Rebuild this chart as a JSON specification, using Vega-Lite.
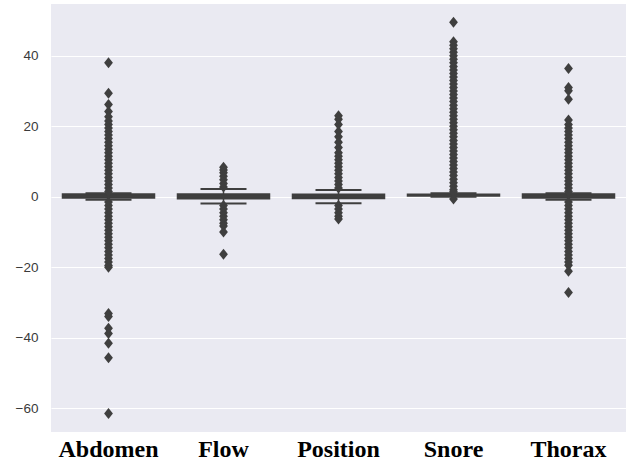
{
  "$schema": "https://vega.github.io/schema/vega-lite/v6.json",
  "width": 575,
  "height": 428,
  "autosize": {"type": "none"},
  "padding": {"left": 51, "top": 4, "right": 10, "bottom": 34},
  "background": "white",
  "config": {
    "view": {"fill": "#EAEAF2", "stroke": null},
    "axis": {"domain": false, "ticks": false, "title": null, "gridColor": "white", "gridWidth": 1.2}
  },
  "datasets": {
    "boxes": [
      {"cat": "Abdomen", "lower": -0.85, "q1": -0.35, "median": 0.1, "q3": 0.75, "upper": 1.0},
      {"cat": "Flow", "lower": -1.9, "q1": -0.55, "median": 0.1, "q3": 0.75, "upper": 2.2},
      {"cat": "Position", "lower": -1.85, "q1": -0.5, "median": 0.1, "q3": 0.7, "upper": 1.9},
      {"cat": "Snore", "lower": 0.0, "q1": 0.2, "median": 0.4, "q3": 0.7, "upper": 1.0},
      {"cat": "Thorax", "lower": -0.85, "q1": -0.35, "median": 0.1, "q3": 0.75, "upper": 1.0}
    ],
    "outliers": [
      {"cat": "Abdomen", "v": 38.0}, {"cat": "Abdomen", "v": 29.4}, {"cat": "Abdomen", "v": 26.2}, {"cat": "Abdomen", "v": 24.2}, {"cat": "Abdomen", "v": 22.7},
      {"cat": "Abdomen", "v": 21.5}, {"cat": "Abdomen", "v": 20.5}, {"cat": "Abdomen", "v": 19.5}, {"cat": "Abdomen", "v": 18.5}, {"cat": "Abdomen", "v": 17.5},
      {"cat": "Abdomen", "v": 16.5}, {"cat": "Abdomen", "v": 15.5}, {"cat": "Abdomen", "v": 14.5}, {"cat": "Abdomen", "v": 13.5}, {"cat": "Abdomen", "v": 12.5},
      {"cat": "Abdomen", "v": 11.5}, {"cat": "Abdomen", "v": 10.5}, {"cat": "Abdomen", "v": 9.5}, {"cat": "Abdomen", "v": 8.5}, {"cat": "Abdomen", "v": 7.5},
      {"cat": "Abdomen", "v": 6.5}, {"cat": "Abdomen", "v": 5.5}, {"cat": "Abdomen", "v": 4.5}, {"cat": "Abdomen", "v": 3.5}, {"cat": "Abdomen", "v": 2.5},
      {"cat": "Abdomen", "v": 1.5}, {"cat": "Abdomen", "v": -1.5}, {"cat": "Abdomen", "v": -2.5}, {"cat": "Abdomen", "v": -3.5}, {"cat": "Abdomen", "v": -4.5},
      {"cat": "Abdomen", "v": -5.5}, {"cat": "Abdomen", "v": -6.5}, {"cat": "Abdomen", "v": -7.5}, {"cat": "Abdomen", "v": -8.5}, {"cat": "Abdomen", "v": -9.5},
      {"cat": "Abdomen", "v": -10.5}, {"cat": "Abdomen", "v": -11.5}, {"cat": "Abdomen", "v": -12.5}, {"cat": "Abdomen", "v": -13.5}, {"cat": "Abdomen", "v": -14.5},
      {"cat": "Abdomen", "v": -15.5}, {"cat": "Abdomen", "v": -16.5}, {"cat": "Abdomen", "v": -17.5}, {"cat": "Abdomen", "v": -18.5}, {"cat": "Abdomen", "v": -19.5},
      {"cat": "Abdomen", "v": -20.0}, {"cat": "Abdomen", "v": -33.1}, {"cat": "Abdomen", "v": -34.0}, {"cat": "Abdomen", "v": -37.3}, {"cat": "Abdomen", "v": -38.8},
      {"cat": "Abdomen", "v": -41.6}, {"cat": "Abdomen", "v": -45.7}, {"cat": "Abdomen", "v": -61.5},
      {"cat": "Flow", "v": 2.8}, {"cat": "Flow", "v": 3.8}, {"cat": "Flow", "v": 4.8}, {"cat": "Flow", "v": 5.8}, {"cat": "Flow", "v": 6.8},
      {"cat": "Flow", "v": 7.6}, {"cat": "Flow", "v": 8.4}, {"cat": "Flow", "v": -2.5}, {"cat": "Flow", "v": -3.5}, {"cat": "Flow", "v": -4.5},
      {"cat": "Flow", "v": -5.5}, {"cat": "Flow", "v": -6.5}, {"cat": "Flow", "v": -7.5}, {"cat": "Flow", "v": -8.3}, {"cat": "Flow", "v": -10.0},
      {"cat": "Flow", "v": -16.3},
      {"cat": "Position", "v": 2.5}, {"cat": "Position", "v": 3.5}, {"cat": "Position", "v": 4.5}, {"cat": "Position", "v": 5.5}, {"cat": "Position", "v": 6.5},
      {"cat": "Position", "v": 7.5}, {"cat": "Position", "v": 8.5}, {"cat": "Position", "v": 9.5}, {"cat": "Position", "v": 10.5}, {"cat": "Position", "v": 11.5},
      {"cat": "Position", "v": 12.5}, {"cat": "Position", "v": 14.0}, {"cat": "Position", "v": 15.5}, {"cat": "Position", "v": 17.0}, {"cat": "Position", "v": 18.5},
      {"cat": "Position", "v": 20.5}, {"cat": "Position", "v": 22.0}, {"cat": "Position", "v": 23.0}, {"cat": "Position", "v": -2.5}, {"cat": "Position", "v": -3.5},
      {"cat": "Position", "v": -4.5}, {"cat": "Position", "v": -5.5}, {"cat": "Position", "v": -6.3},
      {"cat": "Snore", "v": 49.5}, {"cat": "Snore", "v": 44.0}, {"cat": "Snore", "v": 43.0}, {"cat": "Snore", "v": 42.0}, {"cat": "Snore", "v": 41.0},
      {"cat": "Snore", "v": 40.0}, {"cat": "Snore", "v": 39.0}, {"cat": "Snore", "v": 38.0}, {"cat": "Snore", "v": 37.0}, {"cat": "Snore", "v": 36.0},
      {"cat": "Snore", "v": 35.0}, {"cat": "Snore", "v": 34.0}, {"cat": "Snore", "v": 33.0}, {"cat": "Snore", "v": 32.0}, {"cat": "Snore", "v": 31.0},
      {"cat": "Snore", "v": 30.0}, {"cat": "Snore", "v": 29.0}, {"cat": "Snore", "v": 28.0}, {"cat": "Snore", "v": 27.0}, {"cat": "Snore", "v": 26.0},
      {"cat": "Snore", "v": 25.0}, {"cat": "Snore", "v": 24.0}, {"cat": "Snore", "v": 23.0}, {"cat": "Snore", "v": 22.0}, {"cat": "Snore", "v": 21.0},
      {"cat": "Snore", "v": 20.0}, {"cat": "Snore", "v": 19.0}, {"cat": "Snore", "v": 18.0}, {"cat": "Snore", "v": 17.0}, {"cat": "Snore", "v": 16.0},
      {"cat": "Snore", "v": 15.0}, {"cat": "Snore", "v": 14.0}, {"cat": "Snore", "v": 13.0}, {"cat": "Snore", "v": 12.0}, {"cat": "Snore", "v": 11.0},
      {"cat": "Snore", "v": 10.0}, {"cat": "Snore", "v": 9.0}, {"cat": "Snore", "v": 8.0}, {"cat": "Snore", "v": 7.0}, {"cat": "Snore", "v": 6.0},
      {"cat": "Snore", "v": 5.0}, {"cat": "Snore", "v": 4.0}, {"cat": "Snore", "v": 3.0}, {"cat": "Snore", "v": 2.0}, {"cat": "Snore", "v": 1.4},
      {"cat": "Snore", "v": -0.6},
      {"cat": "Thorax", "v": 36.4}, {"cat": "Thorax", "v": 31.0}, {"cat": "Thorax", "v": 30.1}, {"cat": "Thorax", "v": 27.7}, {"cat": "Thorax", "v": 21.8},
      {"cat": "Thorax", "v": 20.5}, {"cat": "Thorax", "v": 19.5}, {"cat": "Thorax", "v": 18.5}, {"cat": "Thorax", "v": 17.5}, {"cat": "Thorax", "v": 16.5},
      {"cat": "Thorax", "v": 15.5}, {"cat": "Thorax", "v": 14.5}, {"cat": "Thorax", "v": 13.5}, {"cat": "Thorax", "v": 12.5}, {"cat": "Thorax", "v": 11.5},
      {"cat": "Thorax", "v": 10.5}, {"cat": "Thorax", "v": 9.5}, {"cat": "Thorax", "v": 8.5}, {"cat": "Thorax", "v": 7.5}, {"cat": "Thorax", "v": 6.5},
      {"cat": "Thorax", "v": 5.5}, {"cat": "Thorax", "v": 4.5}, {"cat": "Thorax", "v": 3.5}, {"cat": "Thorax", "v": 2.5}, {"cat": "Thorax", "v": 1.5},
      {"cat": "Thorax", "v": -1.5}, {"cat": "Thorax", "v": -2.5}, {"cat": "Thorax", "v": -3.5}, {"cat": "Thorax", "v": -4.5}, {"cat": "Thorax", "v": -5.5},
      {"cat": "Thorax", "v": -6.5}, {"cat": "Thorax", "v": -7.5}, {"cat": "Thorax", "v": -8.5}, {"cat": "Thorax", "v": -9.5}, {"cat": "Thorax", "v": -10.5},
      {"cat": "Thorax", "v": -11.5}, {"cat": "Thorax", "v": -12.5}, {"cat": "Thorax", "v": -13.5}, {"cat": "Thorax", "v": -14.5}, {"cat": "Thorax", "v": -15.5},
      {"cat": "Thorax", "v": -16.5}, {"cat": "Thorax", "v": -17.5}, {"cat": "Thorax", "v": -18.5}, {"cat": "Thorax", "v": -19.4}, {"cat": "Thorax", "v": -21.1},
      {"cat": "Thorax", "v": -27.2}
    ]
  },
  "encoding": {
    "x": {
      "field": "cat", "type": "nominal",
      "sort": ["Abdomen", "Flow", "Position", "Snore", "Thorax"],
      "scale": {"paddingInner": 0, "paddingOuter": 0},
      "axis": {"labelAngle": 0, "labelFont": "Liberation Serif", "labelFontWeight": "bold", "labelFontSize": 24, "labelColor": "black", "labelPadding": 5, "grid": false},
      "title": null
    }
  },
  "layer": [
    {
      "data": {"name": "boxes"},
      "mark": {"type": "rule", "color": "#3f3f3f", "strokeWidth": 1.5},
      "encoding": {
        "y": {"field": "lower", "type": "quantitative",
          "scale": {"domain": [-66.75, 54.7], "nice": false, "zero": false},
          "axis": {"values": [-60, -40, -20, 0, 20, 40], "labelFont": "Liberation Sans", "labelFontSize": 13.5, "labelColor": "#3a3a3a", "labelPadding": 13, "grid": true}},
        "y2": {"field": "upper"}
      }
    },
    {
      "data": {"name": "boxes"},
      "mark": {"type": "bar", "color": "#3f3f3f", "stroke": "#3f3f3f", "strokeWidth": 1.5, "width": {"band": 0.8}},
      "encoding": {"y": {"field": "q1", "type": "quantitative"}, "y2": {"field": "q3"}}
    },
    {
      "data": {"name": "boxes"},
      "mark": {"type": "tick", "color": "#3f3f3f", "size": 46, "thickness": 2, "opacity": 1},
      "encoding": {"y": {"field": "upper", "type": "quantitative"}}
    },
    {
      "data": {"name": "boxes"},
      "mark": {"type": "tick", "color": "#3f3f3f", "size": 46, "thickness": 2, "opacity": 1},
      "encoding": {"y": {"field": "lower", "type": "quantitative"}}
    },
    {
      "data": {"name": "boxes"},
      "mark": {"type": "tick", "color": "#3f3f3f", "size": 92, "thickness": 1.5, "opacity": 1},
      "encoding": {"y": {"field": "median", "type": "quantitative"}}
    },
    {
      "data": {"name": "outliers"},
      "mark": {"type": "point", "filled": true, "shape": "M0,-1L0.8,0L0,1L-0.8,0Z", "size": 121, "color": "#3f3f3f", "opacity": 1},
      "encoding": {"y": {"field": "v", "type": "quantitative"}}
    }
  ]
}
